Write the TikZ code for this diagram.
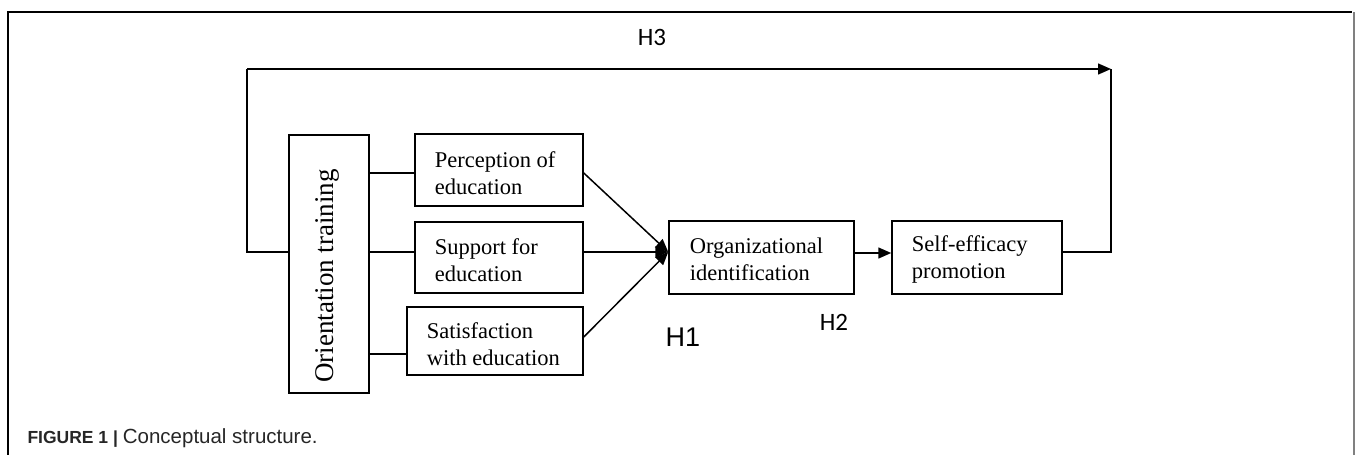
\documentclass[tikz,border=0pt]{standalone}
\usepackage{fontspec}
\setmainfont{Liberation Serif}
\newfontfamily\capfont{Liberation Sans}
\newfontfamily\hfont{Carlito}
\usetikzlibrary{arrows.meta}
\begin{document}
\begin{tikzpicture}[x=1pt,y=-1pt,
  box/.style={draw, line width=1.5pt, inner sep=0pt},
  txt/.style={font=\fontsize{22.5}{27}\selectfont, align=left, anchor=west},
  conn/.style={line width=1.5pt},
  arr/.style={line width=1.5pt, -{Triangle[length=13pt,width=11pt]}},
  hlab/.style={font=\hfont\fontsize{25}{25}\selectfont}
]
\useasboundingbox (0,0) rectangle (1358,455);
% frame
\draw[line width=1.5pt] (8,460) -- (8,12) -- (1352,12);
\draw[line width=2pt, gray] (1354,12) -- (1354,460);

% boxes
\node[box, minimum width=80pt, minimum height=258pt] (ot) at (329,264) {};
\node[rotate=90, font=\fontsize{27}{27}\selectfont] at ([xshift=-2pt,yshift=-12pt]ot.center) {Orientation training};

\node[box, minimum width=168pt, minimum height=72pt] (pe) at (499,170) {};
\node[txt] at ([xshift=17pt,yshift=-3pt]pe.west) {Perception of\\education};

\node[box, minimum width=168pt, minimum height=71pt] (se) at (499,257.5) {};
\node[txt] at ([xshift=17pt,yshift=-3pt]se.west) {Support for\\education};

\node[box, minimum width=176pt, minimum height=68pt] (sa) at (495,341) {};
\node[txt] at ([xshift=17pt,yshift=-3pt]sa.west) {Satisfaction\\with education};

\node[box, minimum width=185pt, minimum height=73pt] (oi) at (761.5,257.5) {};
\node[txt] at ([xshift=18pt,yshift=-2pt]oi.west) {Organizational\\identification};

\node[box, minimum width=170pt, minimum height=73pt] (sp) at (977,257.5) {};
\node[txt] at ([xshift=17pt,yshift=-2pt]sp.west) {Self-efficacy\\promotion};

% connectors from orientation
\draw[conn] (ot.east |- 0,173) -- (pe.west |- 0,173);
\draw[conn] (ot.east |- 0,252) -- (se.west |- 0,252);
\draw[conn] (ot.east |- 0,354) -- (sa.west |- 0,354);

% arrows into organizational identification
\coordinate (oin) at (oi.west |- 0,252);
\draw[arr] (pe.east |- 0,173) -- (oin);
\draw[arr] (se.east |- 0,252) -- (oin);
\draw[arr] (sa.east |- 0,337) -- (oin);

\draw[arr] (oi.east |- 0,253) -- (sp.west |- 0,253);

% H3 loop
\coordinate (tl) at (247,69);
\coordinate (tr) at (1111,69);
\draw[conn] (ot.west |- 0,252) -- (247,252) -- (tl);
\draw[arr] (tl) -- (tr);
\draw[conn] (sp.east |- 0,252) -- (1111,252) -- (tr);

% labels
\node[hlab] (h3) at (652,37) {H3};
\node[hlab] (h2) at (834,322) {H2};
\node[font=\capfont\fontsize{27}{27}\selectfont] (h1) at (683,337) {H1};

% caption
\node[anchor=base west, font=\capfont, text=black!85] (cap) at (24,443)
  {\fontsize{17.5}{18}\selectfont\textbf{FIGURE 1 |} \fontsize{20.5}{20}\selectfont Conceptual structure.};
\end{tikzpicture}
\end{document}
